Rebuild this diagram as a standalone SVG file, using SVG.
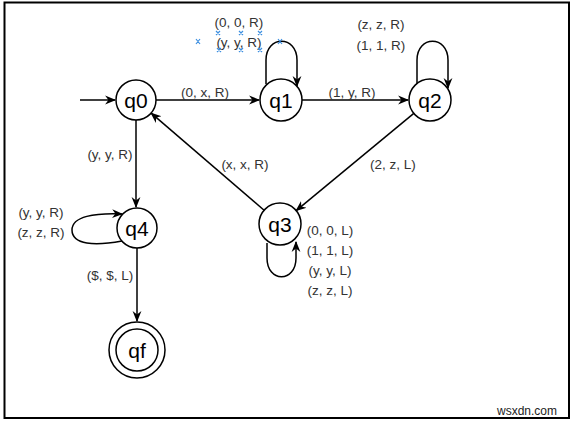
<svg xmlns="http://www.w3.org/2000/svg" width="572" height="421" viewBox="0 0 572 421">
<style>
.node circle{fill:#fff;stroke:#000;stroke-width:1.5}
.node text{font-family:"Liberation Sans",Arial,sans-serif;font-size:21px;fill:#000;text-anchor:middle;dominant-baseline:central}
.edge{fill:none;stroke:#000;stroke-width:1.5}
.lbl{font-family:"Liberation Sans",Arial,sans-serif;font-size:13.5px;fill:#333;text-anchor:middle;dominant-baseline:central}
.h{stroke:#3d8fe0;stroke-width:1.2;fill:none}
</style>
<defs>
<marker id="arr" viewBox="0 0 10 10" refX="9" refY="5" markerWidth="11" markerHeight="11" markerUnits="userSpaceOnUse" orient="auto">
<path d="M0,1 L10,5 L0,9 L3,5 z" fill="#000"/>
</marker>
</defs>
<rect x="0" y="0" width="572" height="421" fill="#fff"/>
<rect x="4.5" y="2.5" width="564.5" height="415.5" fill="none" stroke="#000" stroke-width="2"/>
<g id="connectors">
<path class="edge" d="M80,100 L115,100" marker-end="url(#arr)"/>
<path class="edge" d="M156,100 L259,100" marker-end="url(#arr)"/>
<path class="edge" d="M302,100 L408,100" marker-end="url(#arr)"/>
<path class="edge" d="M266,84 L266,60 C266,35 297,35 297,60 L297,86" marker-end="url(#arr)"/>
<path class="edge" d="M417,84 L417,60 C417,35 448,35 448,60 L448,88" marker-end="url(#arr)"/>
<path class="edge" d="M413.8,113.4 L296.2,210.6" marker-end="url(#arr)"/>
<path class="edge" d="M264.1,210.3 L151.2,113.1" marker-end="url(#arr)"/>
<path class="edge" d="M267,243 L267,258 C267,283 296,283 296,258 L296,242" marker-end="url(#arr)"/>
<path class="edge" d="M136,120 L136,207" marker-end="url(#arr)"/>
<path class="edge" d="M122,241 C95,246 72,245 72,230 C72,216 95,213 122,214" marker-end="url(#arr)"/>
<path class="edge" d="M137,248 L137,321" marker-end="url(#arr)"/>
<text class="lbl" x="205" y="92">(0, x, R)</text>
<text class="lbl" x="352" y="92">(1, y, R)</text>
<text class="lbl" x="239" y="22">(0, 0, R)</text>
<text class="lbl" x="239" y="42">(y, y, R)</text>
<text class="lbl" x="381" y="24">(z, z, R)</text>
<text class="lbl" x="381" y="45">(1, 1, R)</text>
<text class="lbl" x="393" y="164">(2, z, L)</text>
<text class="lbl" x="245" y="164">(x, x, R)</text>
<text class="lbl" x="330" y="230">(0, 0, L)</text>
<text class="lbl" x="330" y="250">(1, 1, L)</text>
<text class="lbl" x="330" y="270">(y, y, L)</text>
<text class="lbl" x="330" y="290">(z, z, L)</text>
<text class="lbl" x="110" y="154">(y, y, R)</text>
<text class="lbl" x="41" y="212">(y, y, R)</text>
<text class="lbl" x="41" y="232">(z, z, R)</text>
<text class="lbl" x="110" y="275">($, $, L)</text>
</g>
<g id="handles">
<path class="h" d="M196,39 l4,5 m0,-5 l-4,5 M216,31 l4,4 m0,-4 l-4,4 M217,48 l4,4 m0,-4 l-4,4 M239,31 l4,4 m0,-4 l-4,4 M239,48 l4,4 m0,-4 l-4,4 M258,31 l4,4 m0,-4 l-4,4 M258,48 l4,4 m0,-4 l-4,4 M278,39 l4,5 m0,-5 l-4,5"/>
</g>
<g id="q0" class="node"><circle cx="136" cy="100" r="20"/><text x="136" y="100">q0</text></g>
<g id="q1" class="node"><circle cx="281" cy="100" r="21"/><text x="281" y="100">q1</text></g>
<g id="q2" class="node"><circle cx="430" cy="100" r="21"/><text x="430" y="100">q2</text></g>
<g id="q3" class="node"><circle cx="280" cy="224" r="21"/><text x="280" y="224">q3</text></g>
<g id="q4" class="node"><circle cx="137" cy="228" r="20"/><text x="137" y="228">q4</text></g>
<g id="qf" class="node"><circle cx="137" cy="350" r="28"/><circle cx="137" cy="350" r="21"/><text x="137" y="350">qf</text></g>
<text x="557" y="411" font-family="'Liberation Sans',Arial,sans-serif" font-size="12" fill="#222" text-anchor="end" dominant-baseline="central">wsxdn.com</text>
</svg>
